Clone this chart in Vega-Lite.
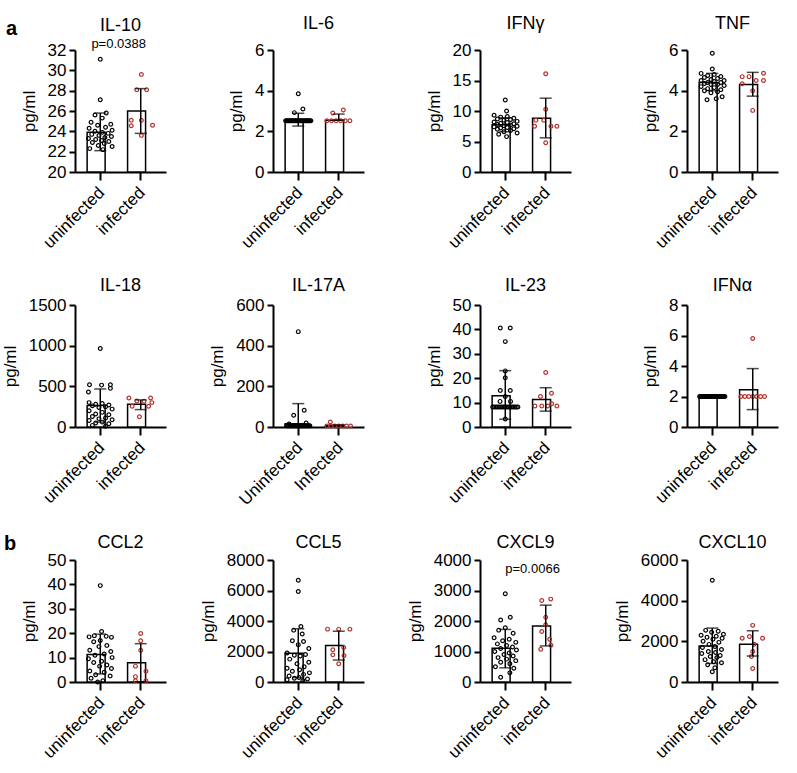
{
"$schema": "https://vega.github.io/schema/vega-lite/v6.json",
"background": "white",
"padding": {"top": 15, "left": 1, "right": 5, "bottom": 5},
"config": {
  "view": {"stroke": null},
  "font": "Liberation Sans",
  "numberFormat": "d",
  "axis": {"grid": false, "domainColor": "black", "domainWidth": 2, "tickColor": "black", "tickWidth": 2, "labelColor": "black", "labelFontSize": 17, "labelFont": "Liberation Sans", "titleColor": "black", "titleFontSize": 17, "titleFont": "Liberation Sans", "titleFontWeight": "normal", "labelOverlap": false},
  "axisX": {"tickSize": 8, "labelAngle": -45, "labelPadding": 4, "labelOffset": -4},
  "axisY": {"tickSize": 6, "labelPadding": 3, "titlePadding": 9},
  "title": {"fontSize": 18, "fontWeight": "normal", "font": "Liberation Sans", "color": "black"},
  "scale": {"bandPaddingInner": 0.35, "bandPaddingOuter": 0.3}
},
"datasets": {
  "IL10s": [{"g":"uninfected","mean":23.9,"lo":22.1,"hi":25.8},{"g":"infected","mean":26.0,"lo":23.8,"hi":28.2}],
  "IL10p": [{"g":"uninfected","v":31.1,"j":0},{"g":"uninfected","v":27.1,"j":0},{"g":"uninfected","v":25.8,"j":0.45},{"g":"uninfected","v":25.6,"j":-0.4},{"g":"uninfected","v":25.3,"j":0.15},{"g":"uninfected","v":24.9,"j":-0.7},{"g":"uninfected","v":24.7,"j":0.8},{"g":"uninfected","v":24.6,"j":-0.2},{"g":"uninfected","v":24.4,"j":0.4},{"g":"uninfected","v":24.3,"j":-0.85},{"g":"uninfected","v":24.1,"j":0.9},{"g":"uninfected","v":24.0,"j":-0.4},{"g":"uninfected","v":23.9,"j":0.15},{"g":"uninfected","v":23.8,"j":0.6},{"g":"uninfected","v":23.7,"j":-0.65},{"g":"uninfected","v":23.6,"j":-0.1},{"g":"uninfected","v":23.5,"j":0.85},{"g":"uninfected","v":23.4,"j":0.35},{"g":"uninfected","v":23.3,"j":-0.9},{"g":"uninfected","v":23.2,"j":-0.35},{"g":"uninfected","v":23.1,"j":0.1},{"g":"uninfected","v":23.0,"j":0.65},{"g":"uninfected","v":22.9,"j":-0.6},{"g":"uninfected","v":22.8,"j":0.3},{"g":"uninfected","v":22.6,"j":-0.15},{"g":"uninfected","v":22.5,"j":0.9},{"g":"uninfected","v":22.3,"j":-0.8},{"g":"uninfected","v":22.2,"j":0.2},
    {"g":"infected","v":29.6,"j":0.05},{"g":"infected","v":28.1,"j":-0.3},{"g":"infected","v":28.1,"j":0.45},{"g":"infected","v":25.1,"j":-0.72},{"g":"infected","v":24.55,"j":-0.72},{"g":"infected","v":25.1,"j":0.05},{"g":"infected","v":24.6,"j":0.9},{"g":"infected","v":23.6,"j":0.05}],
  "IL6s": [{"g":"uninfected","mean":2.52,"lo":2.26,"hi":2.89},{"g":"infected","mean":2.55,"lo":2.55,"hi":2.85}],
  "IL6p": [{"g":"uninfected","v":3.85,"j":0},{"g":"uninfected","v":3.1,"j":0.35},{"g":"uninfected","v":2.92,"j":-0.3},
    {"g":"uninfected","v":2.52,"j":-0.96},{"g":"uninfected","v":2.52,"j":-0.88},{"g":"uninfected","v":2.52,"j":-0.8},{"g":"uninfected","v":2.52,"j":-0.72},{"g":"uninfected","v":2.52,"j":-0.64},{"g":"uninfected","v":2.52,"j":-0.56},{"g":"uninfected","v":2.52,"j":-0.48},{"g":"uninfected","v":2.52,"j":-0.4},{"g":"uninfected","v":2.52,"j":-0.32},{"g":"uninfected","v":2.52,"j":-0.24},{"g":"uninfected","v":2.52,"j":-0.16},{"g":"uninfected","v":2.52,"j":-0.08},{"g":"uninfected","v":2.52,"j":0},{"g":"uninfected","v":2.52,"j":0.08},{"g":"uninfected","v":2.52,"j":0.16},{"g":"uninfected","v":2.52,"j":0.24},{"g":"uninfected","v":2.52,"j":0.32},{"g":"uninfected","v":2.52,"j":0.4},{"g":"uninfected","v":2.52,"j":0.48},{"g":"uninfected","v":2.52,"j":0.56},{"g":"uninfected","v":2.52,"j":0.64},{"g":"uninfected","v":2.52,"j":0.72},{"g":"uninfected","v":2.52,"j":0.8},{"g":"uninfected","v":2.52,"j":0.88},{"g":"uninfected","v":2.52,"j":0.96},
    {"g":"infected","v":3.05,"j":0.35},{"g":"infected","v":2.9,"j":-0.45},{"g":"infected","v":2.52,"j":-0.9},{"g":"infected","v":2.52,"j":-0.55},{"g":"infected","v":2.52,"j":-0.2},{"g":"infected","v":2.52,"j":0.15},{"g":"infected","v":2.52,"j":0.5},{"g":"infected","v":2.52,"j":0.85}],
  "IFNgs": [{"g":"uninfected","mean":7.76,"lo":6.6,"hi":8.9},{"g":"infected","mean":8.8,"lo":5.6,"hi":12.1}],
  "IFNgp": [{"g":"uninfected","v":11.8,"j":0},{"g":"uninfected","v":10.0,"j":0.1},{"g":"uninfected","v":9.3,"j":-0.85},{"g":"uninfected","v":9.1,"j":0.15},{"g":"uninfected","v":9.0,"j":-0.35},{"g":"uninfected","v":8.8,"j":0.65},{"g":"uninfected","v":8.7,"j":-0.6},{"g":"uninfected","v":8.6,"j":0.4},{"g":"uninfected","v":8.5,"j":-0.1},{"g":"uninfected","v":8.3,"j":0.9},{"g":"uninfected","v":8.2,"j":-0.85},{"g":"uninfected","v":8.1,"j":0.15},{"g":"uninfected","v":8.0,"j":-0.35},{"g":"uninfected","v":7.9,"j":0.65},{"g":"uninfected","v":7.8,"j":-0.6},{"g":"uninfected","v":7.7,"j":0.4},{"g":"uninfected","v":7.6,"j":-0.1},{"g":"uninfected","v":7.5,"j":0.9},{"g":"uninfected","v":7.4,"j":-0.85},{"g":"uninfected","v":7.3,"j":0.15},{"g":"uninfected","v":7.2,"j":-0.35},{"g":"uninfected","v":7.1,"j":0.65},{"g":"uninfected","v":7.0,"j":-0.6},{"g":"uninfected","v":6.8,"j":0.4},{"g":"uninfected","v":6.6,"j":-0.1},{"g":"uninfected","v":6.4,"j":0.9},{"g":"uninfected","v":6.2,"j":-0.5},{"g":"uninfected","v":5.8,"j":0.1},
    {"g":"infected","v":16.1,"j":0},{"g":"infected","v":10.3,"j":0},{"g":"infected","v":8.5,"j":-0.75},{"g":"infected","v":8.5,"j":-0.15},{"g":"infected","v":7.5,"j":-0.85},{"g":"infected","v":7.5,"j":0.4},{"g":"infected","v":7.5,"j":0.85},{"g":"infected","v":4.8,"j":0}],
  "TNFs": [{"g":"uninfected","mean":4.4,"lo":4.0,"hi":4.85},{"g":"infected","mean":4.3,"lo":3.73,"hi":4.9}],
  "TNFp": [{"g":"uninfected","v":5.84,"j":0},{"g":"uninfected","v":5.07,"j":0},{"g":"uninfected","v":4.85,"j":-0.85},{"g":"uninfected","v":4.8,"j":0.15},{"g":"uninfected","v":4.75,"j":-0.35},{"g":"uninfected","v":4.7,"j":0.65},{"g":"uninfected","v":4.65,"j":-0.6},{"g":"uninfected","v":4.6,"j":0.4},{"g":"uninfected","v":4.55,"j":-0.1},{"g":"uninfected","v":4.5,"j":0.9},{"g":"uninfected","v":4.5,"j":-0.85},{"g":"uninfected","v":4.45,"j":0.15},{"g":"uninfected","v":4.4,"j":-0.35},{"g":"uninfected","v":4.4,"j":0.65},{"g":"uninfected","v":4.35,"j":-0.6},{"g":"uninfected","v":4.3,"j":0.4},{"g":"uninfected","v":4.3,"j":-0.1},{"g":"uninfected","v":4.25,"j":0.9},{"g":"uninfected","v":4.2,"j":-0.85},{"g":"uninfected","v":4.15,"j":0.15},{"g":"uninfected","v":4.1,"j":-0.35},{"g":"uninfected","v":4.05,"j":0.65},{"g":"uninfected","v":4.0,"j":-0.6},{"g":"uninfected","v":3.95,"j":0.4},{"g":"uninfected","v":3.9,"j":-0.1},{"g":"uninfected","v":3.7,"j":0.75},{"g":"uninfected","v":3.6,"j":0.3},{"g":"uninfected","v":3.55,"j":-0.4},
    {"g":"infected","v":4.86,"j":0.82},{"g":"infected","v":4.69,"j":-0.8},{"g":"infected","v":4.69,"j":-0.28},{"g":"infected","v":4.5,"j":0.26},{"g":"infected","v":4.5,"j":0.82},{"g":"infected","v":4.34,"j":-0.8},{"g":"infected","v":4.0,"j":0},{"g":"infected","v":3.03,"j":0}],
  "IL18s": [{"g":"uninfected","mean":263,"lo":60,"hi":468},{"g":"infected","mean":280,"lo":214,"hi":333}],
  "IL18p": [{"g":"uninfected","v":966,"j":0},{"g":"uninfected","v":520,"j":-0.82},{"g":"uninfected","v":520,"j":0.77},{"g":"uninfected","v":515,"j":0.1},{"g":"uninfected","v":475,"j":0.77},{"g":"uninfected","v":430,"j":-0.9},{"g":"uninfected","v":300,"j":-0.85},{"g":"uninfected","v":290,"j":0.15},{"g":"uninfected","v":280,"j":-0.35},{"g":"uninfected","v":270,"j":0.65},{"g":"uninfected","v":260,"j":-0.6},{"g":"uninfected","v":250,"j":0.4},{"g":"uninfected","v":240,"j":-0.1},{"g":"uninfected","v":220,"j":0.9},{"g":"uninfected","v":200,"j":-0.85},{"g":"uninfected","v":180,"j":0.15},{"g":"uninfected","v":160,"j":-0.35},{"g":"uninfected","v":150,"j":0.65},{"g":"uninfected","v":130,"j":-0.6},{"g":"uninfected","v":110,"j":0.4},{"g":"uninfected","v":100,"j":-0.1},{"g":"uninfected","v":90,"j":0.9},{"g":"uninfected","v":80,"j":-0.85},{"g":"uninfected","v":60,"j":0.15},{"g":"uninfected","v":50,"j":-0.35},{"g":"uninfected","v":40,"j":0.65},{"g":"uninfected","v":20,"j":-0.6},{"g":"uninfected","v":10,"j":0.4},
    {"g":"infected","v":357,"j":-0.9},{"g":"infected","v":357,"j":0.75},{"g":"infected","v":320,"j":-0.3},{"g":"infected","v":316,"j":0.25},{"g":"infected","v":300,"j":0.85},{"g":"infected","v":255,"j":-0.65},{"g":"infected","v":255,"j":0.6},{"g":"infected","v":127,"j":-0.1}],
  "IL17s": [{"g":"uninfected","mean":16,"lo":0,"hi":115},{"g":"infected","mean":6,"lo":3,"hi":10}],
  "IL17p": [{"g":"uninfected","v":469,"j":0},{"g":"uninfected","v":82,"j":0.45},{"g":"uninfected","v":58,"j":-0.35},{"g":"uninfected","v":20,"j":0.6},{"g":"uninfected","v":15,"j":-0.7},
    {"g":"uninfected","v":6,"j":-0.88},{"g":"uninfected","v":6,"j":-0.8},{"g":"uninfected","v":6,"j":-0.72},{"g":"uninfected","v":6,"j":-0.64},{"g":"uninfected","v":6,"j":-0.56},{"g":"uninfected","v":6,"j":-0.48},{"g":"uninfected","v":6,"j":-0.4},{"g":"uninfected","v":6,"j":-0.32},{"g":"uninfected","v":6,"j":-0.24},{"g":"uninfected","v":6,"j":-0.16},{"g":"uninfected","v":6,"j":-0.08},{"g":"uninfected","v":6,"j":0},{"g":"uninfected","v":6,"j":0.08},{"g":"uninfected","v":6,"j":0.16},{"g":"uninfected","v":6,"j":0.24},{"g":"uninfected","v":6,"j":0.32},{"g":"uninfected","v":6,"j":0.4},{"g":"uninfected","v":6,"j":0.48},{"g":"uninfected","v":6,"j":0.56},{"g":"uninfected","v":6,"j":0.64},{"g":"uninfected","v":6,"j":0.72},{"g":"uninfected","v":6,"j":0.8},{"g":"uninfected","v":6,"j":0.88},
    {"g":"infected","v":25,"j":-0.64},{"g":"infected","v":5,"j":-0.9},{"g":"infected","v":5,"j":-0.6},{"g":"infected","v":5,"j":-0.3},{"g":"infected","v":5,"j":0},{"g":"infected","v":5,"j":0.3},{"g":"infected","v":5,"j":0.6},{"g":"infected","v":5,"j":0.9}],
  "IL23s": [{"g":"uninfected","mean":12.8,"lo":3.2,"hi":23.1},{"g":"infected","mean":11.3,"lo":6.5,"hi":16.1}],
  "IL23p": [{"g":"uninfected","v":40.6,"j":-0.38},{"g":"uninfected","v":40.6,"j":0.38},{"g":"uninfected","v":35,"j":0},{"g":"uninfected","v":23,"j":0},{"g":"uninfected","v":20.2,"j":0},{"g":"uninfected","v":15,"j":-0.38},{"g":"uninfected","v":15,"j":0.38},{"g":"uninfected","v":12.5,"j":0},{"g":"uninfected","v":10.5,"j":-0.4},{"g":"uninfected","v":10.5,"j":0.4},{"g":"uninfected","v":3.3,"j":0},
    {"g":"uninfected","v":8.2,"j":-0.96},{"g":"uninfected","v":8.2,"j":-0.84},{"g":"uninfected","v":8.2,"j":-0.72},{"g":"uninfected","v":8.2,"j":-0.6},{"g":"uninfected","v":8.2,"j":-0.48},{"g":"uninfected","v":8.2,"j":-0.36},{"g":"uninfected","v":8.2,"j":-0.24},{"g":"uninfected","v":8.2,"j":-0.12},{"g":"uninfected","v":8.2,"j":0},{"g":"uninfected","v":8.2,"j":0.12},{"g":"uninfected","v":8.2,"j":0.24},{"g":"uninfected","v":8.2,"j":0.36},{"g":"uninfected","v":8.2,"j":0.48},{"g":"uninfected","v":8.2,"j":0.6},{"g":"uninfected","v":8.2,"j":0.72},{"g":"uninfected","v":8.2,"j":0.84},{"g":"uninfected","v":8.2,"j":0.96},
    {"g":"infected","v":22.3,"j":0},{"g":"infected","v":13.8,"j":0.44},{"g":"infected","v":12.5,"j":-0.4},{"g":"infected","v":9.5,"j":0.45},{"g":"infected","v":8.6,"j":-0.82},{"g":"infected","v":8.6,"j":-0.3},{"g":"infected","v":8.6,"j":0.15},{"g":"infected","v":8.6,"j":0.85}],
  "IFNas": [{"g":"uninfected","mean":2.0,"lo":2.0,"hi":2.0},{"g":"infected","mean":2.45,"lo":1.14,"hi":3.83}],
  "IFNap": [{"g":"uninfected","v":2,"j":-0.96},{"g":"uninfected","v":2,"j":-0.88},{"g":"uninfected","v":2,"j":-0.8},{"g":"uninfected","v":2,"j":-0.72},{"g":"uninfected","v":2,"j":-0.64},{"g":"uninfected","v":2,"j":-0.56},{"g":"uninfected","v":2,"j":-0.48},{"g":"uninfected","v":2,"j":-0.4},{"g":"uninfected","v":2,"j":-0.32},{"g":"uninfected","v":2,"j":-0.24},{"g":"uninfected","v":2,"j":-0.16},{"g":"uninfected","v":2,"j":-0.08},{"g":"uninfected","v":2,"j":0},{"g":"uninfected","v":2,"j":0.08},{"g":"uninfected","v":2,"j":0.16},{"g":"uninfected","v":2,"j":0.24},{"g":"uninfected","v":2,"j":0.32},{"g":"uninfected","v":2,"j":0.4},{"g":"uninfected","v":2,"j":0.48},{"g":"uninfected","v":2,"j":0.56},{"g":"uninfected","v":2,"j":0.64},{"g":"uninfected","v":2,"j":0.72},{"g":"uninfected","v":2,"j":0.8},{"g":"uninfected","v":2,"j":0.88},{"g":"uninfected","v":2,"j":0.96},
    {"g":"infected","v":5.8,"j":0},{"g":"infected","v":2,"j":-0.9},{"g":"infected","v":2,"j":-0.6},{"g":"infected","v":2,"j":-0.3},{"g":"infected","v":2,"j":0},{"g":"infected","v":2,"j":0.3},{"g":"infected","v":2,"j":0.6},{"g":"infected","v":2,"j":0.9}],
  "CCL2s": [{"g":"uninfected","mean":11.3,"lo":3.3,"hi":19.6},{"g":"infected","mean":7.9,"lo":0.1,"hi":15.7}],
  "CCL2p": [{"g":"uninfected","v":39.5,"j":0},{"g":"uninfected","v":20.7,"j":0.1},{"g":"uninfected","v":19,"j":-0.45},{"g":"uninfected","v":18.7,"j":0.45},{"g":"uninfected","v":18.5,"j":-0.85},{"g":"uninfected","v":18.3,"j":0.85},{"g":"uninfected","v":17,"j":0},{"g":"uninfected","v":16.5,"j":-0.5},{"g":"uninfected","v":15,"j":0.5},{"g":"uninfected","v":14.5,"j":-0.1},{"g":"uninfected","v":13,"j":-0.8},{"g":"uninfected","v":12.5,"j":0.8},{"g":"uninfected","v":11.5,"j":0.3},{"g":"uninfected","v":11,"j":-0.4},{"g":"uninfected","v":10,"j":0.9},{"g":"uninfected","v":9.5,"j":-0.9},{"g":"uninfected","v":8.5,"j":0.1},{"g":"uninfected","v":8,"j":-0.5},{"g":"uninfected","v":7,"j":0.5},{"g":"uninfected","v":6.5,"j":-0.05},{"g":"uninfected","v":5.5,"j":0.85},{"g":"uninfected","v":4.5,"j":-0.8},{"g":"uninfected","v":4,"j":0.3},{"g":"uninfected","v":3,"j":-0.35},{"g":"uninfected","v":2.5,"j":0.75},{"g":"uninfected","v":1.5,"j":-0.7},{"g":"uninfected","v":0.5,"j":0.2},{"g":"uninfected","v":0,"j":-0.2},
    {"g":"infected","v":19.9,"j":0},{"g":"infected","v":16.9,"j":0},{"g":"infected","v":13,"j":0},{"g":"infected","v":6.5,"j":-0.4},{"g":"infected","v":4.4,"j":0.4},{"g":"infected","v":2.2,"j":-0.4},{"g":"infected","v":0.5,"j":0.4},{"g":"infected","v":0.5,"j":-0.4}],
  "CCL5s": [{"g":"uninfected","mean":1890,"lo":290,"hi":3490},{"g":"infected","mean":2400,"lo":1440,"hi":3330}],
  "CCL5p": [{"g":"uninfected","v":6670,"j":0},{"g":"uninfected","v":5930,"j":0},{"g":"uninfected","v":3640,"j":0.2},{"g":"uninfected","v":3400,"j":-0.35},{"g":"uninfected","v":3150,"j":0.3},{"g":"uninfected","v":2700,"j":-0.45},{"g":"uninfected","v":2650,"j":0.4},{"g":"uninfected","v":2450,"j":0},{"g":"uninfected","v":2200,"j":0.8},{"g":"uninfected","v":1900,"j":-0.85},{"g":"uninfected","v":1800,"j":0.55},{"g":"uninfected","v":1750,"j":-0.3},{"g":"uninfected","v":1700,"j":0.15},{"g":"uninfected","v":1500,"j":-0.65},{"g":"uninfected","v":1300,"j":0.8},{"g":"uninfected","v":1200,"j":-0.1},{"g":"uninfected","v":1000,"j":0.45},{"g":"uninfected","v":900,"j":-0.85},{"g":"uninfected","v":800,"j":0.1},{"g":"uninfected","v":700,"j":-0.45},{"g":"uninfected","v":600,"j":0.85},{"g":"uninfected","v":500,"j":0.4},{"g":"uninfected","v":400,"j":-0.7},{"g":"uninfected","v":300,"j":0.05},{"g":"uninfected","v":250,"j":-0.3},{"g":"uninfected","v":200,"j":0.7},{"g":"uninfected","v":150,"j":-0.85},{"g":"uninfected","v":100,"j":0.35},
    {"g":"infected","v":3467,"j":-0.85},{"g":"infected","v":3467,"j":0},{"g":"infected","v":3467,"j":0.85},{"g":"infected","v":2270,"j":0.38},{"g":"infected","v":2110,"j":-0.45},{"g":"infected","v":1780,"j":-0.45},{"g":"infected","v":1730,"j":0.4},{"g":"infected","v":1200,"j":0}],
  "CXCL9s": [{"g":"uninfected","mean":1105,"lo":464,"hi":1724},{"g":"infected","mean":1834,"lo":1182,"hi":2519}],
  "CXCL9p": [{"g":"uninfected","v":2895,"j":0},{"g":"uninfected","v":2120,"j":0.38},{"g":"uninfected","v":2030,"j":-0.35},{"g":"uninfected","v":1780,"j":0},{"g":"uninfected","v":1700,"j":-0.5},{"g":"uninfected","v":1600,"j":0.6},{"g":"uninfected","v":1450,"j":-0.85},{"g":"uninfected","v":1400,"j":0.3},{"g":"uninfected","v":1350,"j":-0.2},{"g":"uninfected","v":1300,"j":0.8},{"g":"uninfected","v":1250,"j":-0.6},{"g":"uninfected","v":1200,"j":0.1},{"g":"uninfected","v":1150,"j":0.55},{"g":"uninfected","v":1100,"j":-0.35},{"g":"uninfected","v":1050,"j":0.85},{"g":"uninfected","v":1000,"j":-0.8},{"g":"uninfected","v":950,"j":0.3},{"g":"uninfected","v":900,"j":-0.1},{"g":"uninfected","v":850,"j":0.6},{"g":"uninfected","v":800,"j":-0.55},{"g":"uninfected","v":750,"j":0.1},{"g":"uninfected","v":700,"j":0.8},{"g":"uninfected","v":650,"j":-0.35},{"g":"uninfected","v":600,"j":0.35},{"g":"uninfected","v":500,"j":-0.75},{"g":"uninfected","v":450,"j":0.65},{"g":"uninfected","v":300,"j":0.35},{"g":"uninfected","v":155,"j":-0.35},
    {"g":"infected","v":2718,"j":0.38},{"g":"infected","v":2674,"j":-0.3},{"g":"infected","v":2122,"j":0},{"g":"infected","v":1878,"j":0},{"g":"infected","v":1657,"j":-0.3},{"g":"infected","v":1400,"j":0.3},{"g":"infected","v":1204,"j":0.4},{"g":"infected","v":1072,"j":-0.38}],
  "CXCL10s": [{"g":"uninfected","mean":1774,"lo":912,"hi":2653},{"g":"infected","mean":1857,"lo":1277,"hi":2520}],
  "CXCL10p": [{"g":"uninfected","v":5008,"j":0},{"g":"uninfected","v":2540,"j":-0.5},{"g":"uninfected","v":2500,"j":0.45},{"g":"uninfected","v":2450,"j":-0.05},{"g":"uninfected","v":2350,"j":0.85},{"g":"uninfected","v":2300,"j":-0.85},{"g":"uninfected","v":2250,"j":0.3},{"g":"uninfected","v":2200,"j":-0.4},{"g":"uninfected","v":2150,"j":0.75},{"g":"uninfected","v":2100,"j":0.05},{"g":"uninfected","v":2000,"j":-0.7},{"g":"uninfected","v":1950,"j":0.5},{"g":"uninfected","v":1850,"j":-0.25},{"g":"uninfected","v":1750,"j":0.2},{"g":"uninfected","v":1700,"j":-0.75},{"g":"uninfected","v":1600,"j":0.7},{"g":"uninfected","v":1500,"j":-0.3},{"g":"uninfected","v":1450,"j":0.25},{"g":"uninfected","v":1400,"j":-0.8},{"g":"uninfected","v":1300,"j":0.6},{"g":"uninfected","v":1250,"j":-0.15},{"g":"uninfected","v":1200,"j":0.35},{"g":"uninfected","v":1100,"j":-0.55},{"g":"uninfected","v":1000,"j":0.1},{"g":"uninfected","v":950,"j":0.7},{"g":"uninfected","v":850,"j":-0.35},{"g":"uninfected","v":700,"j":0.2},{"g":"uninfected","v":500,"j":0},
    {"g":"infected","v":2786,"j":0},{"g":"infected","v":2240,"j":-0.25},{"g":"infected","v":2150,"j":-0.8},{"g":"infected","v":2150,"j":0.75},{"g":"infected","v":1860,"j":0.1},{"g":"infected","v":1500,"j":0},{"g":"infected","v":1250,"j":-0.1},{"g":"infected","v":660,"j":0}]
},
"vconcat": [
{
 "title": {"text": "a", "anchor": "start", "fontSize": 20, "fontWeight": "bold", "dy": 28, "dx": -14},
 "spacing": 107, "bounds": "flush",
 "resolve": {"scale": {"xOffset": "independent"}},
 "hconcat": [
  {"width": 91, "height": 122, "title": {"text": "IL-10", "offset": 3},
   "encoding": {"x": {"field": "g", "type": "nominal", "scale": {"domain": ["uninfected", "infected"]}, "title": null}},
   "layer": [
    {"data": {"name": "IL10s"}, "mark": {"type": "bar", "fill": "white", "stroke": "black", "strokeWidth": 1.5},
     "encoding": {"y": {"field": "mean", "type": "quantitative", "scale": {"domain": [20, 32], "nice": false, "zero": false}, "axis": {"values": [20, 22, 24, 26, 28, 30, 32], "tickCount": 20, "labelOverlap": false}, "title": "pg/ml"}, "y2": {"datum": 20}}},
    {"data": {"name": "IL10p"}, "mark": {"type": "point", "shape": "circle", "filled": false, "size": 14, "strokeWidth": 1.2, "opacity": 1},
     "encoding": {"y": {"field": "v", "type": "quantitative", "scale": {"domain": [20, 32], "nice": false, "zero": false}, "title": "pg/ml"}, "xOffset": {"field": "j", "type": "quantitative", "scale": {"domain": [-1, 1]}}, "color": {"field": "g", "type": "nominal", "scale": {"domain": ["uninfected", "infected"], "range": ["#000000", "#b3312b"]}, "legend": null}}},
    {"data": {"name": "IL10s"}, "mark": {"type": "rule", "color": "black", "strokeWidth": 1.5},
     "encoding": {"y": {"field": "lo", "type": "quantitative", "scale": {"domain": [20, 32], "nice": false, "zero": false}, "title": "pg/ml"}, "y2": {"field": "hi"}}},
    {"data": {"name": "IL10s"}, "mark": {"type": "tick", "color": "black", "size": 12, "thickness": 1.5},
     "encoding": {"y": {"field": "lo", "type": "quantitative", "scale": {"domain": [20, 32], "nice": false, "zero": false}, "title": "pg/ml"}}},
    {"data": {"name": "IL10s"}, "mark": {"type": "tick", "color": "black", "size": 12, "thickness": 1.5},
     "encoding": {"y": {"field": "hi", "type": "quantitative", "scale": {"domain": [20, 32], "nice": false, "zero": false}, "title": "pg/ml"}}},
    {"data": {"values": [{"label": "p=0.0388"}]}, "mark": {"type": "text", "fontSize": 13, "baseline": "alphabetic", "dy": -2, "color": "black"},
     "encoding": {"x": {"datum": "uninfected", "bandPosition": 1.2}, "y": {"datum": 32, "type": "quantitative", "scale": {"domain": [20, 32], "nice": false, "zero": false}, "title": "pg/ml"}, "text": {"field": "label"}}}
   ]},
  {"spacing": 116, "bounds": "flush",
   "resolve": {"scale": {"xOffset": "independent"}},
   "hconcat": [
    {"width": 91, "height": 122, "title": {"text": "IL-6", "offset": 8},
     "encoding": {"x": {"field": "g", "type": "nominal", "scale": {"domain": ["uninfected", "infected"]}, "title": null}},
     "layer": [
      {"data": {"name": "IL6s"}, "mark": {"type": "bar", "fill": "white", "stroke": "black", "strokeWidth": 1.5},
       "encoding": {"y": {"field": "mean", "type": "quantitative", "scale": {"domain": [0, 6], "nice": false}, "axis": {"values": [0, 2, 4, 6], "tickCount": 20, "labelOverlap": false}, "title": "pg/ml"}}},
      {"data": {"name": "IL6p"}, "mark": {"type": "point", "shape": "circle", "filled": false, "size": 14, "strokeWidth": 1.2, "opacity": 1},
       "encoding": {"y": {"field": "v", "type": "quantitative", "scale": {"domain": [0, 6], "nice": false}, "title": "pg/ml"}, "xOffset": {"field": "j", "type": "quantitative", "scale": {"domain": [-1, 1]}}, "color": {"field": "g", "type": "nominal", "scale": {"domain": ["uninfected", "infected"], "range": ["#000000", "#b3312b"]}, "legend": null}}},
      {"data": {"name": "IL6s"}, "mark": {"type": "rule", "color": "black", "strokeWidth": 1.5},
       "encoding": {"y": {"field": "lo", "type": "quantitative", "scale": {"domain": [0, 6], "nice": false}, "title": "pg/ml"}, "y2": {"field": "hi"}}},
      {"data": {"name": "IL6s"}, "mark": {"type": "tick", "color": "black", "size": 12, "thickness": 1.5},
       "encoding": {"y": {"field": "lo", "type": "quantitative", "scale": {"domain": [0, 6], "nice": false}, "title": "pg/ml"}}},
      {"data": {"name": "IL6s"}, "mark": {"type": "tick", "color": "black", "size": 12, "thickness": 1.5},
       "encoding": {"y": {"field": "hi", "type": "quantitative", "scale": {"domain": [0, 6], "nice": false}, "title": "pg/ml"}}}
     ]},
    {"width": 91, "height": 122, "title": {"text": "IFNγ", "offset": 8},
     "encoding": {"x": {"field": "g", "type": "nominal", "scale": {"domain": ["uninfected", "infected"]}, "title": null}},
     "layer": [
      {"data": {"name": "IFNgs"}, "mark": {"type": "bar", "fill": "white", "stroke": "black", "strokeWidth": 1.5},
       "encoding": {"y": {"field": "mean", "type": "quantitative", "scale": {"domain": [0, 20], "nice": false}, "axis": {"values": [0, 5, 10, 15, 20], "tickCount": 20, "labelOverlap": false}, "title": "pg/ml"}}},
      {"data": {"name": "IFNgp"}, "mark": {"type": "point", "shape": "circle", "filled": false, "size": 14, "strokeWidth": 1.2, "opacity": 1},
       "encoding": {"y": {"field": "v", "type": "quantitative", "scale": {"domain": [0, 20], "nice": false}, "title": "pg/ml"}, "xOffset": {"field": "j", "type": "quantitative", "scale": {"domain": [-1, 1]}}, "color": {"field": "g", "type": "nominal", "scale": {"domain": ["uninfected", "infected"], "range": ["#000000", "#b3312b"]}, "legend": null}}},
      {"data": {"name": "IFNgs"}, "mark": {"type": "rule", "color": "black", "strokeWidth": 1.5},
       "encoding": {"y": {"field": "lo", "type": "quantitative", "scale": {"domain": [0, 20], "nice": false}, "title": "pg/ml"}, "y2": {"field": "hi"}}},
      {"data": {"name": "IFNgs"}, "mark": {"type": "tick", "color": "black", "size": 12, "thickness": 1.5},
       "encoding": {"y": {"field": "lo", "type": "quantitative", "scale": {"domain": [0, 20], "nice": false}, "title": "pg/ml"}}},
      {"data": {"name": "IFNgs"}, "mark": {"type": "tick", "color": "black", "size": 12, "thickness": 1.5},
       "encoding": {"y": {"field": "hi", "type": "quantitative", "scale": {"domain": [0, 20], "nice": false}, "title": "pg/ml"}}}
     ]},
    {"width": 91, "height": 122, "title": {"text": "TNF", "offset": 8},
     "encoding": {"x": {"field": "g", "type": "nominal", "scale": {"domain": ["uninfected", "infected"]}, "title": null}},
     "layer": [
      {"data": {"name": "TNFs"}, "mark": {"type": "bar", "fill": "white", "stroke": "black", "strokeWidth": 1.5},
       "encoding": {"y": {"field": "mean", "type": "quantitative", "scale": {"domain": [0, 6], "nice": false}, "axis": {"values": [0, 2, 4, 6], "tickCount": 20, "labelOverlap": false}, "title": "pg/ml"}}},
      {"data": {"name": "TNFp"}, "mark": {"type": "point", "shape": "circle", "filled": false, "size": 14, "strokeWidth": 1.2, "opacity": 1},
       "encoding": {"y": {"field": "v", "type": "quantitative", "scale": {"domain": [0, 6], "nice": false}, "title": "pg/ml"}, "xOffset": {"field": "j", "type": "quantitative", "scale": {"domain": [-1, 1]}}, "color": {"field": "g", "type": "nominal", "scale": {"domain": ["uninfected", "infected"], "range": ["#000000", "#b3312b"]}, "legend": null}}},
      {"data": {"name": "TNFs"}, "mark": {"type": "rule", "color": "black", "strokeWidth": 1.5},
       "encoding": {"y": {"field": "lo", "type": "quantitative", "scale": {"domain": [0, 6], "nice": false}, "title": "pg/ml"}, "y2": {"field": "hi"}}},
      {"data": {"name": "TNFs"}, "mark": {"type": "tick", "color": "black", "size": 12, "thickness": 1.5},
       "encoding": {"y": {"field": "lo", "type": "quantitative", "scale": {"domain": [0, 6], "nice": false}, "title": "pg/ml"}}},
      {"data": {"name": "TNFs"}, "mark": {"type": "tick", "color": "black", "size": 12, "thickness": 1.5},
       "encoding": {"y": {"field": "hi", "type": "quantitative", "scale": {"domain": [0, 6], "nice": false}, "title": "pg/ml"}}}
     ]}
   ]}
 ]
},
{
 "spacing": 107, "bounds": "flush",
 "resolve": {"scale": {"xOffset": "independent"}},
 "hconcat": [
  {"width": 91, "height": 122, "title": {"text": "IL-18", "offset": 1},
   "encoding": {"x": {"field": "g", "type": "nominal", "scale": {"domain": ["uninfected", "infected"]}, "title": null}},
   "layer": [
    {"data": {"name": "IL18s"}, "mark": {"type": "bar", "fill": "white", "stroke": "black", "strokeWidth": 1.5},
     "encoding": {"y": {"field": "mean", "type": "quantitative", "scale": {"domain": [0, 1500], "nice": false}, "axis": {"values": [0, 500, 1000, 1500], "tickCount": 20, "labelOverlap": false}, "title": "pg/ml"}}},
    {"data": {"name": "IL18p"}, "mark": {"type": "point", "shape": "circle", "filled": false, "size": 14, "strokeWidth": 1.2, "opacity": 1},
     "encoding": {"y": {"field": "v", "type": "quantitative", "scale": {"domain": [0, 1500], "nice": false}, "title": "pg/ml"}, "xOffset": {"field": "j", "type": "quantitative", "scale": {"domain": [-1, 1]}}, "color": {"field": "g", "type": "nominal", "scale": {"domain": ["uninfected", "infected"], "range": ["#000000", "#b3312b"]}, "legend": null}}},
    {"data": {"name": "IL18s"}, "mark": {"type": "rule", "color": "black", "strokeWidth": 1.5},
     "encoding": {"y": {"field": "lo", "type": "quantitative", "scale": {"domain": [0, 1500], "nice": false}, "title": "pg/ml"}, "y2": {"field": "hi"}}},
    {"data": {"name": "IL18s"}, "mark": {"type": "tick", "color": "black", "size": 12, "thickness": 1.5},
     "encoding": {"y": {"field": "lo", "type": "quantitative", "scale": {"domain": [0, 1500], "nice": false}, "title": "pg/ml"}}},
    {"data": {"name": "IL18s"}, "mark": {"type": "tick", "color": "black", "size": 12, "thickness": 1.5},
     "encoding": {"y": {"field": "hi", "type": "quantitative", "scale": {"domain": [0, 1500], "nice": false}, "title": "pg/ml"}}}
   ]},
  {"spacing": 116, "bounds": "flush",
   "resolve": {"scale": {"xOffset": "independent"}},
   "hconcat": [
    {"width": 91, "height": 122, "title": {"text": "IL-17A", "offset": 1},
     "encoding": {"x": {"field": "g", "type": "nominal", "scale": {"domain": ["uninfected", "infected"]}, "title": null, "axis": {"labelExpr": "datum.label == 'uninfected' ? 'Uninfected' : 'Infected'"}}},
     "layer": [
      {"data": {"name": "IL17s"}, "mark": {"type": "bar", "fill": "white", "stroke": "black", "strokeWidth": 1.5},
       "encoding": {"y": {"field": "mean", "type": "quantitative", "scale": {"domain": [0, 600], "nice": false}, "axis": {"values": [0, 200, 400, 600], "tickCount": 20, "labelOverlap": false}, "title": "pg/ml"}}},
      {"data": {"name": "IL17p"}, "mark": {"type": "point", "shape": "circle", "filled": false, "size": 14, "strokeWidth": 1.2, "opacity": 1},
       "encoding": {"y": {"field": "v", "type": "quantitative", "scale": {"domain": [0, 600], "nice": false}, "title": "pg/ml"}, "xOffset": {"field": "j", "type": "quantitative", "scale": {"domain": [-1, 1]}}, "color": {"field": "g", "type": "nominal", "scale": {"domain": ["uninfected", "infected"], "range": ["#000000", "#b3312b"]}, "legend": null}}},
      {"data": {"name": "IL17s"}, "mark": {"type": "rule", "color": "black", "strokeWidth": 1.5},
       "encoding": {"y": {"field": "lo", "type": "quantitative", "scale": {"domain": [0, 600], "nice": false}, "title": "pg/ml"}, "y2": {"field": "hi"}}},
      {"data": {"name": "IL17s"}, "mark": {"type": "tick", "color": "black", "size": 12, "thickness": 1.5},
       "encoding": {"y": {"field": "hi", "type": "quantitative", "scale": {"domain": [0, 600], "nice": false}, "title": "pg/ml"}}}
     ]},
    {"width": 91, "height": 122, "title": {"text": "IL-23", "offset": 1},
     "encoding": {"x": {"field": "g", "type": "nominal", "scale": {"domain": ["uninfected", "infected"]}, "title": null}},
     "layer": [
      {"data": {"name": "IL23s"}, "mark": {"type": "bar", "fill": "white", "stroke": "black", "strokeWidth": 1.5},
       "encoding": {"y": {"field": "mean", "type": "quantitative", "scale": {"domain": [0, 50], "nice": false}, "axis": {"values": [0, 10, 20, 30, 40, 50], "tickCount": 20, "labelOverlap": false}, "title": "pg/ml"}}},
      {"data": {"name": "IL23p"}, "mark": {"type": "point", "shape": "circle", "filled": false, "size": 14, "strokeWidth": 1.2, "opacity": 1},
       "encoding": {"y": {"field": "v", "type": "quantitative", "scale": {"domain": [0, 50], "nice": false}, "title": "pg/ml"}, "xOffset": {"field": "j", "type": "quantitative", "scale": {"domain": [-1, 1]}}, "color": {"field": "g", "type": "nominal", "scale": {"domain": ["uninfected", "infected"], "range": ["#000000", "#b3312b"]}, "legend": null}}},
      {"data": {"name": "IL23s"}, "mark": {"type": "rule", "color": "black", "strokeWidth": 1.5},
       "encoding": {"y": {"field": "lo", "type": "quantitative", "scale": {"domain": [0, 50], "nice": false}, "title": "pg/ml"}, "y2": {"field": "hi"}}},
      {"data": {"name": "IL23s"}, "mark": {"type": "tick", "color": "black", "size": 12, "thickness": 1.5},
       "encoding": {"y": {"field": "lo", "type": "quantitative", "scale": {"domain": [0, 50], "nice": false}, "title": "pg/ml"}}},
      {"data": {"name": "IL23s"}, "mark": {"type": "tick", "color": "black", "size": 12, "thickness": 1.5},
       "encoding": {"y": {"field": "hi", "type": "quantitative", "scale": {"domain": [0, 50], "nice": false}, "title": "pg/ml"}}}
     ]},
    {"width": 91, "height": 122, "title": {"text": "IFNα", "offset": 1},
     "encoding": {"x": {"field": "g", "type": "nominal", "scale": {"domain": ["uninfected", "infected"]}, "title": null}},
     "layer": [
      {"data": {"name": "IFNas"}, "mark": {"type": "bar", "fill": "white", "stroke": "black", "strokeWidth": 1.5},
       "encoding": {"y": {"field": "mean", "type": "quantitative", "scale": {"domain": [0, 8], "nice": false}, "axis": {"values": [0, 2, 4, 6, 8], "tickCount": 20, "labelOverlap": false}, "title": "pg/ml"}}},
      {"data": {"name": "IFNap"}, "mark": {"type": "point", "shape": "circle", "filled": false, "size": 14, "strokeWidth": 1.2, "opacity": 1},
       "encoding": {"y": {"field": "v", "type": "quantitative", "scale": {"domain": [0, 8], "nice": false}, "title": "pg/ml"}, "xOffset": {"field": "j", "type": "quantitative", "scale": {"domain": [-1, 1]}}, "color": {"field": "g", "type": "nominal", "scale": {"domain": ["uninfected", "infected"], "range": ["#000000", "#b3312b"]}, "legend": null}}},
      {"data": {"name": "IFNas"}, "mark": {"type": "rule", "color": "black", "strokeWidth": 1.5},
       "encoding": {"y": {"field": "lo", "type": "quantitative", "scale": {"domain": [0, 8], "nice": false}, "title": "pg/ml"}, "y2": {"field": "hi"}}},
      {"data": {"name": "IFNas"}, "mark": {"type": "tick", "color": "black", "size": 12, "thickness": 1.5},
       "encoding": {"y": {"field": "lo", "type": "quantitative", "scale": {"domain": [0, 8], "nice": false}, "title": "pg/ml"}}},
      {"data": {"name": "IFNas"}, "mark": {"type": "tick", "color": "black", "size": 12, "thickness": 1.5},
       "encoding": {"y": {"field": "hi", "type": "quantitative", "scale": {"domain": [0, 8], "nice": false}, "title": "pg/ml"}}}
     ]}
   ]}
 ]
},
{
 "title": {"text": "b", "anchor": "start", "fontSize": 20, "fontWeight": "bold", "dy": 24, "dx": -16},
 "spacing": 107, "bounds": "flush",
 "resolve": {"scale": {"xOffset": "independent"}},
 "hconcat": [
  {"width": 91, "height": 122, "title": {"text": "CCL2", "offset": -1},
   "encoding": {"x": {"field": "g", "type": "nominal", "scale": {"domain": ["uninfected", "infected"]}, "title": null}},
   "layer": [
    {"data": {"name": "CCL2s"}, "mark": {"type": "bar", "fill": "white", "stroke": "black", "strokeWidth": 1.5},
     "encoding": {"y": {"field": "mean", "type": "quantitative", "scale": {"domain": [0, 50], "nice": false}, "axis": {"values": [0, 10, 20, 30, 40, 50], "tickCount": 20, "labelOverlap": false}, "title": "pg/ml"}}},
    {"data": {"name": "CCL2p"}, "mark": {"type": "point", "shape": "circle", "filled": false, "size": 14, "strokeWidth": 1.2, "opacity": 1},
     "encoding": {"y": {"field": "v", "type": "quantitative", "scale": {"domain": [0, 50], "nice": false}, "title": "pg/ml"}, "xOffset": {"field": "j", "type": "quantitative", "scale": {"domain": [-1, 1]}}, "color": {"field": "g", "type": "nominal", "scale": {"domain": ["uninfected", "infected"], "range": ["#000000", "#b3312b"]}, "legend": null}}},
    {"data": {"name": "CCL2s"}, "mark": {"type": "rule", "color": "black", "strokeWidth": 1.5},
     "encoding": {"y": {"field": "lo", "type": "quantitative", "scale": {"domain": [0, 50], "nice": false}, "title": "pg/ml"}, "y2": {"field": "hi"}}},
    {"data": {"name": "CCL2s"}, "mark": {"type": "tick", "color": "black", "size": 12, "thickness": 1.5},
     "encoding": {"y": {"field": "lo", "type": "quantitative", "scale": {"domain": [0, 50], "nice": false}, "title": "pg/ml"}}},
    {"data": {"name": "CCL2s"}, "mark": {"type": "tick", "color": "black", "size": 12, "thickness": 1.5},
     "encoding": {"y": {"field": "hi", "type": "quantitative", "scale": {"domain": [0, 50], "nice": false}, "title": "pg/ml"}}}
   ]},
  {"spacing": 116, "bounds": "flush",
   "resolve": {"scale": {"xOffset": "independent"}},
   "hconcat": [
    {"width": 91, "height": 122, "title": {"text": "CCL5", "offset": -1},
     "encoding": {"x": {"field": "g", "type": "nominal", "scale": {"domain": ["uninfected", "infected"]}, "title": null}},
     "layer": [
      {"data": {"name": "CCL5s"}, "mark": {"type": "bar", "fill": "white", "stroke": "black", "strokeWidth": 1.5},
       "encoding": {"y": {"field": "mean", "type": "quantitative", "scale": {"domain": [0, 8000], "nice": false}, "axis": {"values": [0, 2000, 4000, 6000, 8000], "tickCount": 20, "labelOverlap": false}, "title": "pg/ml"}}},
      {"data": {"name": "CCL5p"}, "mark": {"type": "point", "shape": "circle", "filled": false, "size": 14, "strokeWidth": 1.2, "opacity": 1},
       "encoding": {"y": {"field": "v", "type": "quantitative", "scale": {"domain": [0, 8000], "nice": false}, "title": "pg/ml"}, "xOffset": {"field": "j", "type": "quantitative", "scale": {"domain": [-1, 1]}}, "color": {"field": "g", "type": "nominal", "scale": {"domain": ["uninfected", "infected"], "range": ["#000000", "#b3312b"]}, "legend": null}}},
      {"data": {"name": "CCL5s"}, "mark": {"type": "rule", "color": "black", "strokeWidth": 1.5},
       "encoding": {"y": {"field": "lo", "type": "quantitative", "scale": {"domain": [0, 8000], "nice": false}, "title": "pg/ml"}, "y2": {"field": "hi"}}},
      {"data": {"name": "CCL5s"}, "mark": {"type": "tick", "color": "black", "size": 12, "thickness": 1.5},
       "encoding": {"y": {"field": "lo", "type": "quantitative", "scale": {"domain": [0, 8000], "nice": false}, "title": "pg/ml"}}},
      {"data": {"name": "CCL5s"}, "mark": {"type": "tick", "color": "black", "size": 12, "thickness": 1.5},
       "encoding": {"y": {"field": "hi", "type": "quantitative", "scale": {"domain": [0, 8000], "nice": false}, "title": "pg/ml"}}}
     ]},
    {"width": 91, "height": 122, "title": {"text": "CXCL9", "offset": -1},
     "encoding": {"x": {"field": "g", "type": "nominal", "scale": {"domain": ["uninfected", "infected"]}, "title": null}},
     "layer": [
      {"data": {"name": "CXCL9s"}, "mark": {"type": "bar", "fill": "white", "stroke": "black", "strokeWidth": 1.5},
       "encoding": {"y": {"field": "mean", "type": "quantitative", "scale": {"domain": [0, 4000], "nice": false}, "axis": {"values": [0, 1000, 2000, 3000, 4000], "tickCount": 20, "labelOverlap": false}, "title": "pg/ml"}}},
      {"data": {"name": "CXCL9p"}, "mark": {"type": "point", "shape": "circle", "filled": false, "size": 14, "strokeWidth": 1.2, "opacity": 1},
       "encoding": {"y": {"field": "v", "type": "quantitative", "scale": {"domain": [0, 4000], "nice": false}, "title": "pg/ml"}, "xOffset": {"field": "j", "type": "quantitative", "scale": {"domain": [-1, 1]}}, "color": {"field": "g", "type": "nominal", "scale": {"domain": ["uninfected", "infected"], "range": ["#000000", "#b3312b"]}, "legend": null}}},
      {"data": {"name": "CXCL9s"}, "mark": {"type": "rule", "color": "black", "strokeWidth": 1.5},
       "encoding": {"y": {"field": "lo", "type": "quantitative", "scale": {"domain": [0, 4000], "nice": false}, "title": "pg/ml"}, "y2": {"field": "hi"}}},
      {"data": {"name": "CXCL9s"}, "mark": {"type": "tick", "color": "black", "size": 12, "thickness": 1.5},
       "encoding": {"y": {"field": "lo", "type": "quantitative", "scale": {"domain": [0, 4000], "nice": false}, "title": "pg/ml"}}},
      {"data": {"name": "CXCL9s"}, "mark": {"type": "tick", "color": "black", "size": 12, "thickness": 1.5},
       "encoding": {"y": {"field": "hi", "type": "quantitative", "scale": {"domain": [0, 4000], "nice": false}, "title": "pg/ml"}}},
      {"data": {"values": [{"label": "p=0.0066"}]}, "mark": {"type": "text", "fontSize": 13, "baseline": "alphabetic", "color": "black"},
       "encoding": {"x": {"datum": "infected", "bandPosition": 0}, "y": {"datum": 3590, "type": "quantitative", "scale": {"domain": [0, 4000], "nice": false}, "title": "pg/ml"}, "text": {"field": "label"}}}
     ]},
    {"width": 91, "height": 122, "title": {"text": "CXCL10", "offset": -1},
     "encoding": {"x": {"field": "g", "type": "nominal", "scale": {"domain": ["uninfected", "infected"]}, "title": null}},
     "layer": [
      {"data": {"name": "CXCL10s"}, "mark": {"type": "bar", "fill": "white", "stroke": "black", "strokeWidth": 1.5},
       "encoding": {"y": {"field": "mean", "type": "quantitative", "scale": {"domain": [0, 6000], "nice": false}, "axis": {"values": [0, 2000, 4000, 6000], "tickCount": 20, "labelOverlap": false}, "title": "pg/ml"}}},
      {"data": {"name": "CXCL10p"}, "mark": {"type": "point", "shape": "circle", "filled": false, "size": 14, "strokeWidth": 1.2, "opacity": 1},
       "encoding": {"y": {"field": "v", "type": "quantitative", "scale": {"domain": [0, 6000], "nice": false}, "title": "pg/ml"}, "xOffset": {"field": "j", "type": "quantitative", "scale": {"domain": [-1, 1]}}, "color": {"field": "g", "type": "nominal", "scale": {"domain": ["uninfected", "infected"], "range": ["#000000", "#b3312b"]}, "legend": null}}},
      {"data": {"name": "CXCL10s"}, "mark": {"type": "rule", "color": "black", "strokeWidth": 1.5},
       "encoding": {"y": {"field": "lo", "type": "quantitative", "scale": {"domain": [0, 6000], "nice": false}, "title": "pg/ml"}, "y2": {"field": "hi"}}},
      {"data": {"name": "CXCL10s"}, "mark": {"type": "tick", "color": "black", "size": 12, "thickness": 1.5},
       "encoding": {"y": {"field": "lo", "type": "quantitative", "scale": {"domain": [0, 6000], "nice": false}, "title": "pg/ml"}}},
      {"data": {"name": "CXCL10s"}, "mark": {"type": "tick", "color": "black", "size": 12, "thickness": 1.5},
       "encoding": {"y": {"field": "hi", "type": "quantitative", "scale": {"domain": [0, 6000], "nice": false}, "title": "pg/ml"}}}
     ]}
   ]}
 ]
}
],
"spacing": 255,
"bounds": "flush",
"resolve": {"scale": {"xOffset": "independent"}}
}
